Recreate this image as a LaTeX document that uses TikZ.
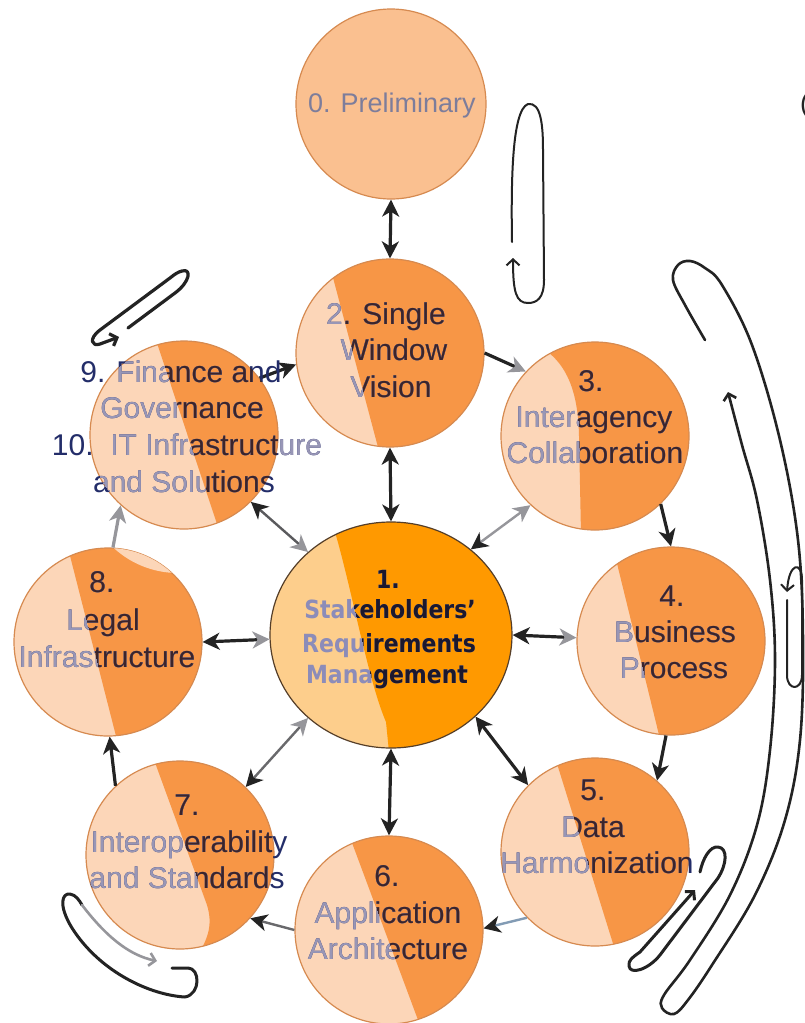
\documentclass[tikz,border=0pt]{standalone}
\usepackage{fontspec}
\setmainfont{Liberation Sans}
\newfontfamily\cfont[FakeStretch=0.88]{DejaVu Sans}
\usetikzlibrary{arrows.meta,shapes.geometric}
\definecolor{peach}{RGB}{250,192,144}
\definecolor{lightp}{RGB}{252,214,184}
\definecolor{darkp}{RGB}{247,150,70}
\definecolor{edgep}{RGB}{214,138,80}
\definecolor{clight}{RGB}{253,206,140}
\definecolor{cdark}{RGB}{255,153,0}
\definecolor{cedge}{RGB}{85,62,40}
\definecolor{tlight}{RGB}{152,150,182}
\definecolor{tdark}{RGB}{60,36,42}
\definecolor{tnavy}{RGB}{35,45,105}
\definecolor{tc0}{RGB}{125,125,155}
\definecolor{c1light}{RGB}{140,140,185}
\definecolor{c1dark}{RGB}{28,24,45}
\definecolor{ink}{RGB}{35,35,35}
\definecolor{gline}{RGB}{150,150,155}
\definecolor{bline}{RGB}{130,155,180}
\tikzset{
  kk/.style={arrows={Stealth[length=17pt,width=17pt,inset=5pt,color=ink]-Stealth[length=17pt,width=17pt,inset=5pt,color=ink]}},
  kg/.style={arrows={Stealth[length=17pt,width=17pt,inset=5pt,color=ink]-Stealth[length=17pt,width=17pt,inset=5pt,color=gline]}},
  gk/.style={arrows={Stealth[length=17pt,width=17pt,inset=5pt,color=gline]-Stealth[length=17pt,width=17pt,inset=5pt,color=ink]}},
  nk/.style={arrows={-Stealth[length=17pt,width=17pt,inset=5pt,color=ink]}},
  ng/.style={arrows={-Stealth[length=17pt,width=17pt,inset=5pt,color=gline]}},
  nb/.style={arrows={-Straight Barb[length=6pt,width=13pt]}},
  ngb/.style={arrows={-Straight Barb[length=6pt,width=13pt,color=gline]}},
  circ/.style={circle,draw=edgep,line width=1.2pt,minimum size=188pt,inner sep=0pt},
  t/.style={anchor=base,inner sep=0pt,font=\fontsize{30}{36}\selectfont},
  tc/.style={anchor=base,inner sep=0pt,font=\cfont\bfseries\fontsize{25}{30}\selectfont},
  arr/.style={line width=3.2pt,draw=ink},
  sketch/.style={draw=ink,line cap=round,line join=round},
}
% dark regions (absolute pixel coordinates, y downwards)
\def\dkA{(328,515) -- (335,532) .. controls (352,590) and (368,680) .. (386,722) -- (389,752) -- (520,752) -- (520,515) -- cycle}
\def\dkB{(327,255) -- (379,451) -- (500,451) -- (500,255) -- cycle}
\def\dkC{(520,338) .. controls (560,350) and (578,380) .. (579,436) -- (581,534) -- (700,534) -- (700,338) -- cycle}
\def\dkD{(612,543) -- (660,739) -- (780,739) -- (780,543) -- cycle}
\def\dkE{(554,754) -- (615,950) -- (700,950) -- (700,754) -- cycle}
\def\dkF{(348,832) -- (421,1028) -- (500,1028) -- (500,832) -- cycle}
\def\dkG{(153,757) -- (207,905) .. controls (213,925) and (208,938) .. (198,955) -- (300,955) -- (300,757) -- cycle}
\def\dkH{(67,544) -- (117,740) -- (220,740) -- (220,544) -- cycle}
\def\dkI{(155,337) -- (220,533) -- (300,533) -- (300,337) -- cycle}
\newcommand\pcirc[3]{%
  \fill[lightp] #2 circle[radius=94pt];
  \begin{scope}\clip #2 circle[radius=94pt]; \fill[darkp] #3;\end{scope}
  \node[circ] (#1) at #2 {};}
\newcommand\tri[3]{%
  #1{tnavy}{o}%
  \begin{scope}\clip #2 circle[radius=94pt]; #1{tlight}{l}\clip #3; #1{tdark}{d}\end{scope}}
\newcommand\Tone[2]{%
  \node[tc,text=#1] (t1a#2) at (388,588) {1.};
  \node[tc,text=#1] (t1b#2) at (390,618) {Stakeholders’};
  \node[tc,text=#1] (t1c#2) at (389,652) {Requirements};
  \node[tc,text=#1] (t1d#2) at (387,683) {Management};}
\newcommand\Ttwo[2]{%
  \node[t,text=#1] (t2a#2) at (386,324) {2. Single};
  \node[t,text=#1] (t2b#2) at (394,360) {Window};
  \node[t,text=#1] (t2c#2) at (391,397) {Vision};}
\newcommand\Tthree[2]{%
  \node[t,text=#1] (t3a#2) at (591,391) {3.};
  \node[t,text=#1] (t3b#2) at (594,427) {Interagency};
  \node[t,text=#1] (t3c#2) at (595,463) {Collaboration};}
\newcommand\Tfour[2]{%
  \node[t,text=#1] (t4a#2) at (672,606) {4.};
  \node[t,text=#1] (t4b#2) at (675,642) {Business};
  \node[t,text=#1] (t4c#2) at (674,678) {Process};}
\newcommand\Tfive[2]{%
  \node[t,text=#1] (t5a#2) at (593,800) {5.};
  \node[t,text=#1] (t5b#2) at (593,837) {Data};
  \node[t,text=#1] (t5c#2) at (597,873) {Harmonization};}
\newcommand\Tsix[2]{%
  \node[t,text=#1] (t6a#2) at (387,886) {6.};
  \node[t,text=#1] (t6b#2) at (388,923) {Application};
  \node[t,text=#1] (t6c#2) at (388,959) {Architecture};}
\newcommand\Tseven[2]{%
  \node[t,text=#1] (t7a#2) at (187,815) {7.};
  \node[t,text=#1] (t7b#2) at (189,852) {Interoperability};
  \node[t,text=#1] (t7c#2) at (187,888) {and Standards};}
\newcommand\Teight[2]{%
  \node[t,text=#1] (t8a#2) at (102,592) {8.};
  \node[t,text=#1] (t8b#2) at (103,630) {Legal};
  \node[t,text=#1] (t8c#2) at (107,667) {Infrastructure};}
\newcommand\Tnine[2]{%
  \node[t,text=#1] (t9a#2) at (181,382) {9. Finance and};
  \node[t,text=#1] (t9b#2) at (182,418) {Governance};
  \node[t,text=#1] (t9c#2) at (187,455) {10.\ \ IT Infrastructure};
  \node[t,text=#1] (t9d#2) at (184,492) {and Solutions};}
\begin{document}
\begin{tikzpicture}[x=1pt,y=-1pt]
\useasboundingbox (0,0) rectangle (804,1023);
\fill[white] (0,0) rectangle (804,1023);

% ---------- circles ----------
\node[circ,fill=peach,minimum size=190pt] (c0) at (391,104) {};
\fill[clight] (391,635) ellipse[x radius=121pt,y radius=113pt];
\begin{scope}\clip (391,635) ellipse[x radius=121pt,y radius=113pt]; \fill[cdark] \dkA;\end{scope}
\node[ellipse,draw=cedge,line width=1.2pt,minimum width=242pt,minimum height=226pt,inner sep=0pt] (c1) at (391,635) {};
\pcirc{c2}{(390,353)}{\dkB}
\pcirc{c3}{(595,436)}{\dkC}
\pcirc{c4}{(671,641)}{\dkD}
\pcirc{c5}{(595,852)}{\dkE}
\pcirc{c6}{(389,930)}{\dkF}
\pcirc{c7}{(180,855)}{\dkG}
\pcirc{c8}{(108,642)}{\dkH}
\begin{scope}\clip (108,642) circle[radius=94pt]; \fill[lightp] (178,478) circle[radius=95pt];\end{scope}
\pcirc{c9}{(184,435)}{\dkI}

% ---------- cycle connectors ----------
\draw[arr,kk] (c0.south) -- (c2.north);
\draw[arr,ng] (c2.0) -- (c3.137);
\draw[arr,nk] (c3.-46) -- (c4.90);
\draw[arr,nk] (c4.-93) -- (c5.49);
\draw[arr,draw=bline,line width=2.4pt,nk] (c5.224) -- (c6.1);
\draw[arr,draw=gline!70!black,line width=2.4pt,nk] (c6.180) -- (c7.-42);
\draw[arr,nk] (c7.133) -- (c8.-89);
\draw[arr,draw=gline,ng] (c8.87) -- (c9.228);
\draw[arr,nk] (c9.37) -- (c2.187);

% ---------- radial connectors ----------
\draw[arr,kk] (c1.north) -- (c2.south);
\draw[arr,draw=gline,line width=2.4pt,kg] (c1.47) -- (c3.227);
\draw[arr,kg] (c1.0) -- (c4.178);
\draw[arr,kk] (c1.-44) -- (c5.135);
\draw[arr,kk] (c1.south) -- (c6.north);
\draw[arr,draw=gline!70!black,line width=2.4pt,gk] (c1.225) -- (c7.46);
\draw[arr,gk] (c1.182) -- (c8.0);
\draw[arr,draw=gline!60!black,line width=2.4pt,gk] (c1.135) -- (c9.-45);

% ---------- hand-drawn loops ----------
\draw[sketch,line width=2pt,nb] (512,242) .. controls (511,180) and (512,110) .. (528,104) .. controls (541,102) and (543,125) .. (543,150) -- (544,280) .. controls (544,298) and (537,303) .. (528,303) .. controls (516,303) and (513,292) .. (513,258);
\draw[sketch,line width=3.2pt,nb] (128,328) -- (175,293) .. controls (190,282) and (192,268) .. (182,271) .. controls (178,272) and (175,274) .. (170,278) -- (100,330) .. controls (88,339) and (92,347) .. (100,344) -- (119,337);
\draw[sketch,line width=3pt] (172,968) -- (188,968) .. controls (200,968) and (201,994) .. (185,997) .. controls (150,995) and (100,972) .. (72,928) .. controls (58,905) and (62,893) .. (70,894) .. controls (76,895) and (79,900) .. (82,905);
\draw[sketch,draw=gline,line width=2.6pt,ngb] (82,905) .. controls (105,935) and (128,955) .. (157,961);
\draw[sketch,line width=3pt,nb] (700,872) .. controls (703,858) and (710,846) .. (718,847) .. controls (728,848) and (727,864) .. (718,878) -- (660,955) .. controls (648,970) and (630,975) .. (629,966) .. controls (628,960) and (633,957) .. (640,952) -- (695,890);
\draw[sketch,line width=2.6pt,nb] plot[smooth,tension=0.6] coordinates {(705,340) (685,305) (673,280) (678,265) (690,261) (705,268) (722,285) (752,345) (780,440) (798,540) (803,640) (800,740) (785,820) (755,895) (712,965) (688,1000) (674,1014) (662,1008) (664,995) (690,960) (730,895) (757,825) (770,750) (775,660) (770,580) (757,500) (742,445) (728,392)};
\draw[sketch,line width=2pt,nb] (787,600) -- (787,675) .. controls (787,691) and (802,691) .. (802,675) -- (802,580) .. controls (802,561) and (789,562) .. (787,592);

% ---------- texts ----------
\node[t,font=\fontsize{27}{32}\selectfont,text=tc0] (t0) at (392,112) {0. Preliminary};
\node[t,font=\fontsize{27}{32}\selectfont,text=ink,anchor=base west] (paren) at (800,112) {(};
\Tone{c1light}{l}
\begin{scope}\clip \dkA; \Tone{c1dark}{d}\end{scope}
\tri\Ttwo{(390,353)}{\dkB}
\tri\Tthree{(595,436)}{\dkC}
\tri\Tfour{(671,641)}{\dkD}
\tri\Tfive{(595,852)}{\dkE}
\tri\Tsix{(389,930)}{\dkF}
\tri\Tseven{(180,855)}{\dkG}
\tri\Teight{(108,642)}{\dkH}
\tri\Tnine{(184,435)}{\dkI}
\begin{scope}\clip (279,430) rectangle (335,465); \Tnine{tlight}{g}\end{scope}
\end{tikzpicture}
\end{document}
